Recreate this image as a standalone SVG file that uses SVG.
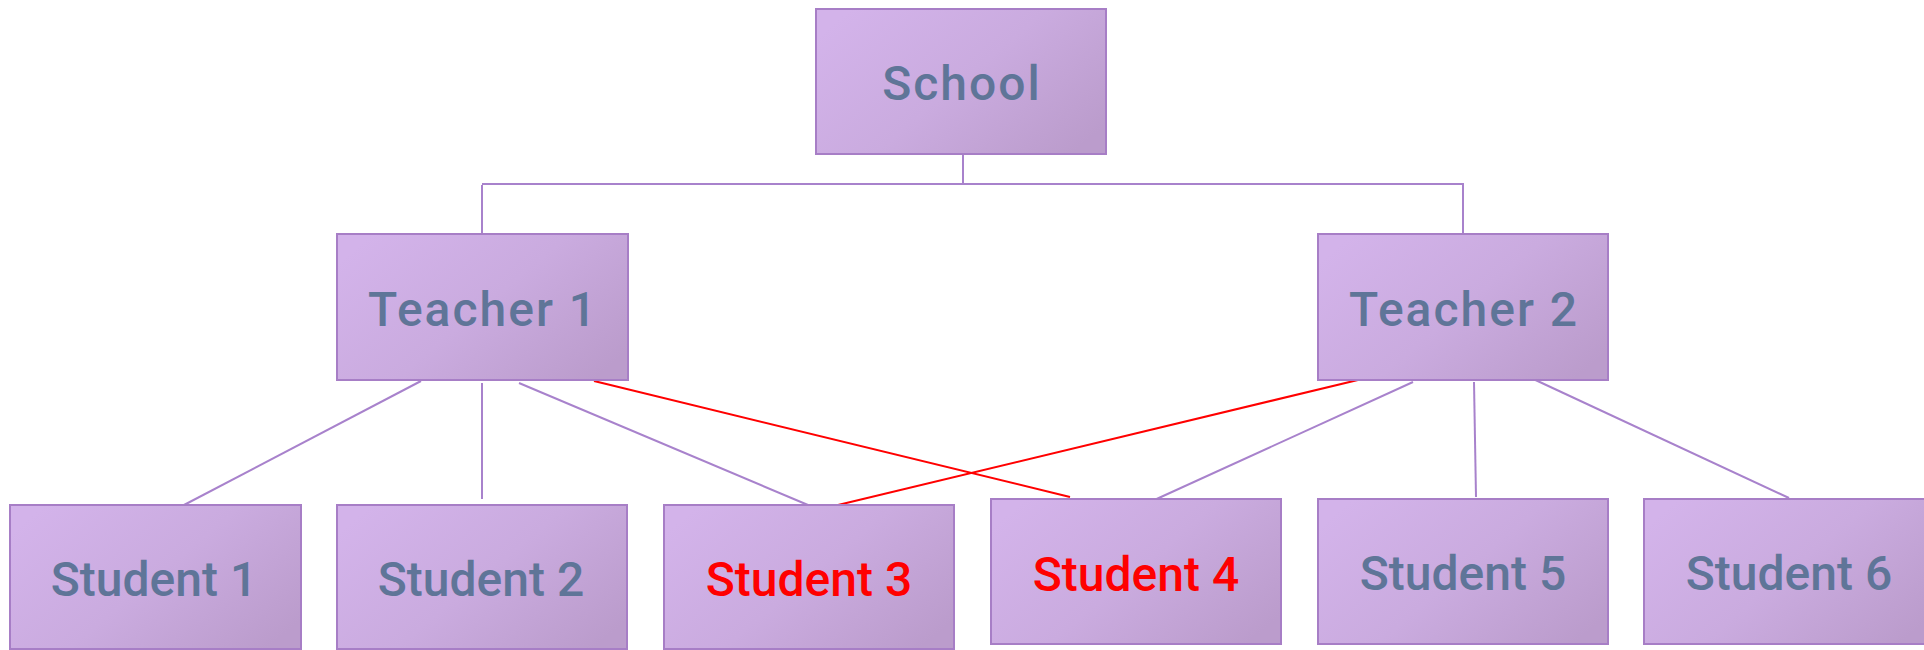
<svg xmlns="http://www.w3.org/2000/svg" width="1924" height="650" viewBox="0 0 1924 650">
<defs>
<linearGradient id="g" x1="0" y1="0.2" x2="1" y2="0.8">
<stop offset="0" stop-color="#D3B3EA"/>
<stop offset="0.5" stop-color="#CAABDF"/>
<stop offset="1" stop-color="#BB9CCC"/>
</linearGradient>
<style>
.box{fill:url(#g);stroke:#A77EC6;stroke-width:2}
.t{font-family:Roboto,"Liberation Sans",Arial,sans-serif;font-weight:500;font-size:48px;fill:#5F7598;text-anchor:middle}
.w{letter-spacing:2px}
.r{fill:#FF0000}
.c{stroke:#A882CC;stroke-width:2;fill:none}
.cr{stroke:#FF0000;stroke-width:2;fill:none}
</style>
</defs>
<rect width="1924" height="650" fill="#FFFFFF"/>
<g id="connectors">
<path class="c" d="M963 154 V184 M482 185 V234 M482 184 H1463 V234"/>
<line class="c" x1="421" y1="381" x2="184" y2="505"/>
<line class="c" x1="482" y1="383" x2="482" y2="499"/>
<line class="c" x1="519" y1="383" x2="808" y2="505"/>
<line class="c" x1="1413" y1="382" x2="1150" y2="502"/>
<line class="c" x1="1474" y1="382" x2="1476" y2="497"/>
<line class="c" x1="1529" y1="377" x2="1789" y2="498"/>
<line class="cr" x1="594" y1="381" x2="1070" y2="497"/>
<line class="cr" x1="1362" y1="379" x2="838" y2="505"/>
</g>
<g id="school"><rect class="box" x="816" y="9" width="290" height="145"/><text class="t w" x="962" y="100">School</text></g>
<g id="teacher1"><rect class="box" x="337" y="234" width="291" height="146"/><text class="t w" x="483" y="326">Teacher 1</text></g>
<g id="teacher2"><rect class="box" x="1318" y="234" width="290" height="146"/><text class="t w" x="1464" y="326">Teacher 2</text></g>
<g id="student1"><rect class="box" x="10" y="505" width="291" height="144"/><text class="t" x="154" y="596">Student 1</text></g>
<g id="student2"><rect class="box" x="337" y="505" width="290" height="144"/><text class="t" x="481" y="596">Student 2</text></g>
<g id="student3"><rect class="box" x="664" y="505" width="290" height="144"/><text class="t r" x="809" y="596">Student 3</text></g>
<g id="student4"><rect class="box" x="991" y="499" width="290" height="145"/><text class="t r" x="1136" y="591">Student 4</text></g>
<g id="student5"><rect class="box" x="1318" y="499" width="290" height="145"/><text class="t" x="1463" y="590">Student 5</text></g>
<g id="student6"><rect class="box" x="1644" y="499" width="290" height="145"/><text class="t" x="1789" y="590">Student 6</text></g>
</svg>
